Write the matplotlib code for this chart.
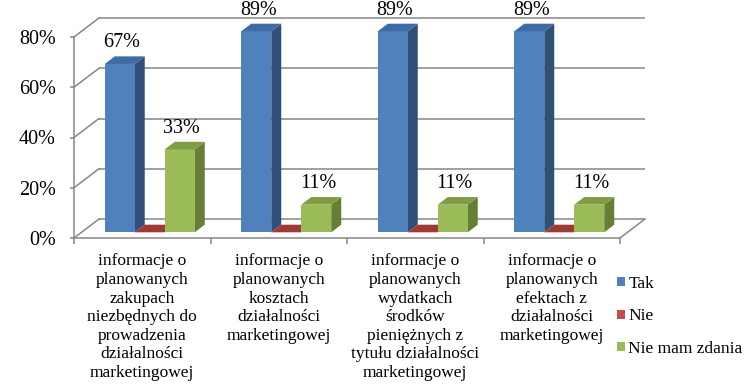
import matplotlib
matplotlib.use("Agg")
import matplotlib.pyplot as plt
from matplotlib.patches import Polygon, Patch
from matplotlib.ticker import FixedLocator, FuncFormatter

# ---- data ----
categories = [
    "informacje o\nplanowanych\nzakupach\nniezbędnych do\nprowadzenia\ndziałalności\nmarketingowej",
    "informacje o\nplanowanych\nkosztach\ndziałalności\nmarketingowej",
    "informacje o\nplanowanych\nwydatkach\nśrodków\npieniężnych z\ntytułu działalności\nmarketingowej",
    "informacje o\nplanowanych\nefektach z\ndziałalności\nmarketingowej",
]
series_names = ["Tak", "Nie", "Nie mam zdania"]
tak = [67, 89, 89, 89]
nie = [0, 0, 0, 0]
nie_mam = [33, 11, 11, 11]
y_ticks = [0, 20, 40, 60, 80]

series_values = [tak, nie, nie_mam]
front_cols = ["#4F81BD", "#C0504D", "#9BBB59"]
side_cols = ["#30507A", "#7F2A28", "#667F35"]
top_cols = ["#3E6BA3", "#A03A38", "#7E9D44"]
show_labels = [True, False, True]

plt.rcParams['font.family'] = ['Liberation Serif', 'DejaVu Serif']

W_PX, H_PX = 746, 389
fig = plt.figure(figsize=(W_PX / 100, H_PX / 100), dpi=100)
left, right, bottom, top = 74, 620, 238, 37
ax = fig.add_axes([left / W_PX, (H_PX - bottom) / H_PX,
                   (right - left) / W_PX, (bottom - top) / H_PX])
ncat = len(categories)
ymax = y_ticks[-1]
ax.set_xlim(0, ncat)
ax.set_ylim(0, ymax)

px_per_cat = (right - left) / ncat
px_per_pct = (bottom - top) / ymax
DX = 25 / px_per_cat
DY = 19 / px_per_pct
grid_col = "#868686"
lw = 1.1

# back wall gridlines, left wall diagonals, floor edge
for v in y_ticks:
    ax.plot([DX, ncat + DX], [v + DY, v + DY], color=grid_col, lw=lw,
            clip_on=False, zorder=1, solid_capstyle='butt')
    ax.plot([0, DX], [v, v + DY], color=grid_col, lw=lw, clip_on=False, zorder=1)
ax.plot([ncat, ncat + DX], [0, DY], color=grid_col, lw=lw, clip_on=False, zorder=1)

# bars
f0 = 0.3
d = 0.4
bw = 30 / px_per_cat
nser = len(series_values)
for i in range(ncat):
    for s in range(nser):
        v = series_values[s][i]
        h = min(v, ymax)
        x0 = i + 0.5 + (s - nser / 2) * bw + f0 * DX
        y0 = f0 * DY
        ox, oy = d * DX, d * DY
        z = 2 + i * 3 + s
        if h > 0:
            ax.add_patch(Polygon([(x0 + bw, y0), (x0 + bw + ox, y0 + oy),
                                  (x0 + bw + ox, y0 + h + oy), (x0 + bw, y0 + h)],
                                 closed=True, fc=side_cols[s], ec='none',
                                 clip_on=False, zorder=z))
            ax.add_patch(Polygon([(x0, y0), (x0 + bw, y0), (x0 + bw, y0 + h), (x0, y0 + h)],
                                 closed=True, fc=front_cols[s], ec='none',
                                 clip_on=False, zorder=z))
        ax.add_patch(Polygon([(x0, y0 + h), (x0 + bw, y0 + h),
                              (x0 + bw + ox, y0 + h + oy), (x0 + ox, y0 + h + oy)],
                             closed=True, fc=top_cols[s], ec='none',
                             clip_on=False, zorder=z))
        if show_labels[s]:
            ax.text(x0 + bw / 2 + 2 / px_per_cat, y0 + h + 21 / px_per_pct,
                    f"{v}%", ha='center', va='center', fontsize=14.5,
                    color='black', zorder=50, clip_on=False)

# axes styling
for sp in ['top', 'right']:
    ax.spines[sp].set_visible(False)
for sp in ['left', 'bottom']:
    ax.spines[sp].set_color(grid_col)
    ax.spines[sp].set_linewidth(lw)
    ax.spines[sp].set_zorder(0.5)

ax.yaxis.set_major_locator(FixedLocator(y_ticks))
ax.yaxis.set_major_formatter(FuncFormatter(lambda v, p: f"{int(v)}%"))
ax.tick_params(axis='y', which='major', length=3, width=lw, color=grid_col,
               labelsize=14.5, pad=10, direction='out')

ax.xaxis.set_major_locator(FixedLocator(list(range(ncat + 1))))
ax.xaxis.set_major_formatter(FuncFormatter(lambda v, p: ""))
ax.tick_params(axis='x', which='major', length=4, width=lw, color=grid_col, direction='out')
ax.xaxis.set_minor_locator(FixedLocator([i + 0.5 for i in range(ncat)]))
ax.xaxis.set_minor_formatter(FuncFormatter(lambda v, p: categories[int(v)]))
ax.tick_params(axis='x', which='minor', length=0, labelsize=12.5, pad=11)
for lab in ax.xaxis.get_minorticklabels():
    lab.set_linespacing(1.22)

handles = [Patch(facecolor=c, edgecolor='none') for c in front_cols]
fig.legend(handles, series_names, loc='upper left',
           bbox_to_anchor=(617 / W_PX, 1 - 276 / H_PX), frameon=False,
           fontsize=12.5, handlelength=0.45, handleheight=0.45,
           handletextpad=0.2, labelspacing=0.95, borderaxespad=0, borderpad=0)

fig.savefig("out.png", dpi=100)
